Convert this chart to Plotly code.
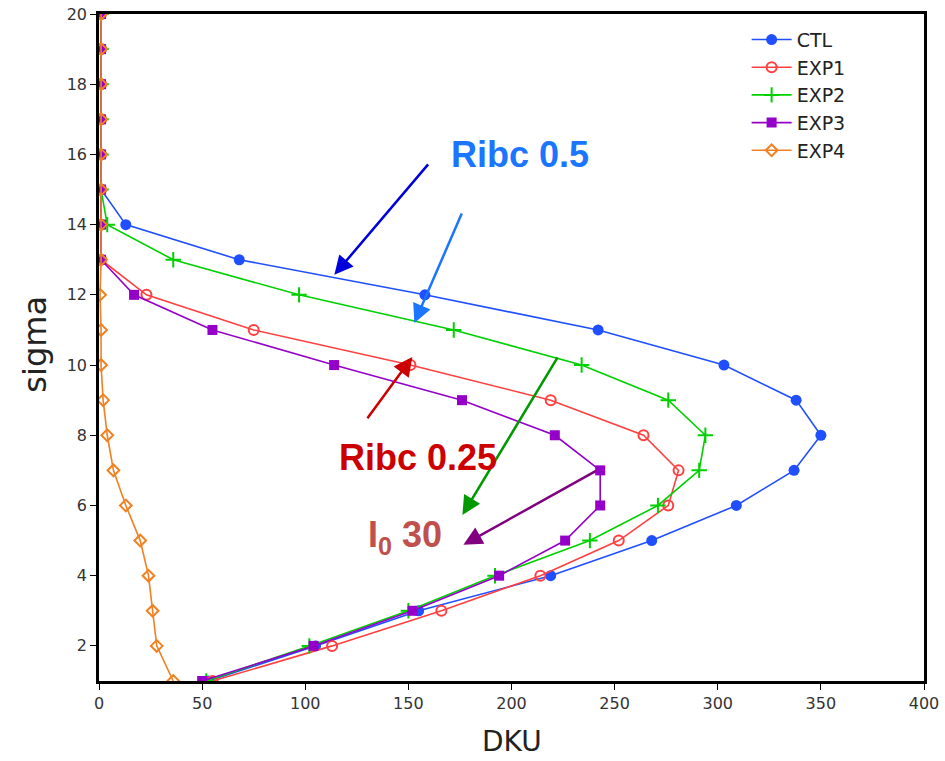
import plotly.graph_objects as go

sigma = list(range(1, 21))

ctl  = [53, 105, 155, 219, 268, 309, 337, 350, 338, 303, 242, 158, 68, 13, 1, 1, 1, 1, 1, 1]
exp1 = [55, 113, 166, 214, 252, 276, 281, 264, 219, 151, 75, 23, 1, 1, 1, 1, 1, 1, 1, 1]
exp2 = [52, 102, 150, 192, 238, 271, 291, 294, 276, 234, 172, 97, 36, 4, 1, 1, 1, 1, 1, 1]
exp3 = [50, 104, 152, 194, 226, 243, 243, 221, 176, 114, 55, 17, 1, 1, 1, 1, 1, 1, 1, 1]
exp4 = [36, 28, 26, 24, 20, 13, 7, 4, 2, 1, 1, 0.5, 1, 1, 1, 1, 1, 1, 1, 1]

series = [
    ("CTL", ctl, "#1f4fff", "circle", 11),
    ("EXP1", exp1, "#ff4040", "circle-open", 10),
    ("EXP2", exp2, "#00d000", "cross-thin-open", 11),
    ("EXP3", exp3, "#9400c8", "square", 10),
    ("EXP4", exp4, "#f08020", "diamond-open", 9),
]

fig = go.Figure()
for name, vals, col, sym, sz in series:
    fig.add_trace(go.Scatter(
        x=vals, y=sigma, name=name, mode="lines+markers",
        line=dict(color=col, width=1.6),
        marker=dict(symbol=sym, size=sz, color=col,
                    line=dict(color=col, width=2 if "open" in sym else 0)),
    ))

arrows = [
    # tip x, tip y, tail x, tail y, color
    (114.1, 12.57, 160.2, 15.76, "#0000dd"),
    (152.9, 11.2, 176.2, 14.36, "#1a75ff"),
    (151.9, 10.23, 129.6, 8.44, "#cc0000"),
    (176.2, 5.73, 222.8, 10.26, "#009900"),
    (176.7, 4.88, 241.7, 7.01, "#800080"),
]
for tx, ty, ax_, ay_, col in arrows:
    fig.add_annotation(x=tx, y=ty, ax=ax_, ay=ay_, xref="x", yref="y",
                       axref="x", ayref="y", showarrow=True, arrowhead=2,
                       arrowsize=1.5, arrowwidth=2.5, arrowcolor=col, text="")

lab_font = "Liberation Sans, Arial"
fig.add_annotation(x=204, y=16.0, xref="x", yref="y", text="<b>Ribc 0.5</b>",
                   showarrow=False, font=dict(family=lab_font, size=36, color="#1a75ff"))
fig.add_annotation(x=154.5, y=7.37, xref="x", yref="y", text="<b>Ribc 0.25</b>",
                   showarrow=False, font=dict(family=lab_font, size=36, color="#cc0000"))
fig.add_annotation(x=148.5, y=5.1, xref="x", yref="y", text="<b>I<sub>0</sub> 30</b>",
                   showarrow=False, font=dict(family=lab_font, size=36, color="#c0504d"))

# axis titles
fig.add_annotation(x=0.5, y=-0.091, xref="paper", yref="paper", text="DKU",
                   showarrow=False, xanchor="center", yanchor="middle",
                   font=dict(size=28, color="#222"))
fig.add_annotation(x=-0.077, y=0.505, xref="paper", yref="paper", text="sigma",
                   showarrow=False, textangle=-90, xanchor="center", yanchor="middle",
                   font=dict(size=32, color="#222"))

fig.update_layout(
    width=945, height=761,
    margin=dict(l=99, r=21, t=14, b=80, autoexpand=False),
    plot_bgcolor="white", paper_bgcolor="white",
    font=dict(family="DejaVu Sans", color="#222"),
    legend=dict(x=0.785, y=0.99, xanchor="left", yanchor="top",
                bgcolor="rgba(0,0,0,0)", font=dict(size=19, color="#222"),
                tracegroupgap=0, itemwidth=40),
    showlegend=True,
)
fig.update_xaxes(range=[0, 400], tickvals=[0, 50, 100, 150, 200, 250, 300, 350, 400],
                 ticks="outside", ticklen=6, tickcolor="black", showgrid=False,
                 showline=True, linecolor="black", linewidth=2.5, mirror=True,
                 zeroline=False, automargin=False, tickfont=dict(size=16, color="#333"))
fig.update_yaxes(range=[1, 20], tickvals=[2, 4, 6, 8, 10, 12, 14, 16, 18, 20],
                 ticks="outside", ticklen=6, tickcolor="black", showgrid=False,
                 showline=True, linecolor="black", linewidth=2.5, mirror=True,
                 zeroline=False, automargin=False, tickfont=dict(size=16, color="#333"))

fig.write_html("out.html")
